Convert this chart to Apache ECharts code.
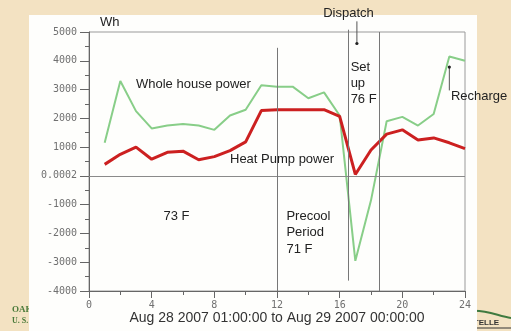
<!DOCTYPE html>
<html>
<head>
<meta charset="utf-8">
<script src="https://cdn.jsdelivr.net/npm/echarts@6/dist/echarts.min.js"></script>
<style>
  html, body { margin: 0; padding: 0; background: #f3e2c2; }
  #chart { width: 511px; height: 331px; }
</style>
</head>
<body>
<div id="chart"></div>
<script>
// Hourly energy use, Aug 28 2007 01:00 to Aug 29 2007 00:00
const hours = [1, 2, 3, 4, 5, 6, 7, 8, 9, 10, 11, 12, 13, 14, 15, 16, 17, 18, 19, 20, 21, 22, 23, 24];
const wholeHousePower = [1150, 3300, 2250, 1650, 1750, 1800, 1750, 1600, 2100, 2300, 3150, 3100,
                         3100, 2700, 2900, 2100, -2950, -850, 1900, 2050, 1750, 2150, 4150, 4000];
const heatPumpPower = [400, 750, 1000, 580, 820, 860, 560, 670, 880, 1180, 2270, 2300,
                       2300, 2300, 2300, 2070, 50, 900, 1450, 1600, 1250, 1320, 1150, 950];

const yTicks = [-4000, -3000, -2000, -1000, 0, 1000, 2000, 3000, 4000, 5000];
const xTicks = [0, 4, 8, 12, 16, 20, 24];

// Period boundaries: [hour, top value, bottom value]
const periodLines = [[12, 4450, -4000], [16.5, 5080, -3640], [18.5, 5000, -4000]];

const chart = echarts.init(document.getElementById('chart'), null, { renderer: 'canvas' });

const axisFont = { fontFamily: 'DejaVu Sans Mono', fontSize: 10, color: '#707070' };

chart.setOption({
  backgroundColor: '#f3e2c2',
  animation: false,
  grid: { left: 89, right: 46, top: 32, bottom: 40, show: true, borderColor: '#9a9a9a', borderWidth: 1 },
  xAxis: {
    type: 'value', min: xTicks[0], max: xTicks[xTicks.length - 1], interval: 4,
    axisLine: { onZero: false, lineStyle: { color: '#666', width: 1 } },
    axisTick: { length: 7, lineStyle: { color: '#666' } },
    minorTick: { show: true, splitNumber: 2, length: 4, lineStyle: { color: '#666' } },
    splitLine: { show: false },
    axisLabel: Object.assign({ margin: 9 }, axisFont)
  },
  yAxis: {
    type: 'value', min: yTicks[0], max: yTicks[yTicks.length - 1], interval: 1000,
    axisLine: { show: true, lineStyle: { color: '#666', width: 1 } },
    axisTick: { show: true, length: 9, lineStyle: { color: '#666' } },
    minorTick: { show: true, splitNumber: 2, length: 4, lineStyle: { color: '#666' } },
    splitLine: { show: false },
    axisLabel: Object.assign({ margin: 12, formatter: v => (v === 0 ? '0.0002' : String(v)) }, axisFont)
  },
  series: [
    {
      name: 'Whole house power', type: 'line', symbol: 'none',
      data: hours.map((h, i) => [h, wholeHousePower[i]]),
      lineStyle: { color: '#88ce88', width: 2 }, z: 3,
      markLine: {
        silent: true, symbol: 'none', label: { show: false },
        lineStyle: { color: '#8a8a8a', width: 1, type: 'solid' },
        data: [{ yAxis: 0 }]
      }
    },
    {
      name: 'Heat Pump power', type: 'line', symbol: 'none',
      data: hours.map((h, i) => [h, heatPumpPower[i]]),
      lineStyle: { color: '#cc2020', width: 3 }, z: 4
    }
  ]
});

const px = (x, y) => chart.convertToPixel({ gridIndex: 0 }, [x, y]);

const elements = [];

// slide background logos, partly covered by the white panel
elements.push({
  type: 'text', z: -20, left: 12, top: 305,
  style: { text: 'OAK RIDGE NATIONAL LABORATORY', font: 'bold 9px "Liberation Serif"', fill: '#4a7a3a' }
});
elements.push({
  type: 'text', z: -20, left: 12, top: 317,
  style: { text: 'U. S. DEPARTMENT OF ENERGY', font: 'bold 8px "Liberation Serif"', fill: '#4a7a3a' }
});
elements.push({
  type: 'text', z: -20, left: 458, top: 319,
  style: { text: 'BATTELLE', font: 'bold 8px "Liberation Sans"', fill: '#333' }
});
elements.push({
  type: 'line', z: -20, shape: { x1: 470, y1: 328, x2: 511, y2: 328 },
  style: { stroke: '#333', lineWidth: 1 }
});
elements.push({
  type: 'bezierCurve', z: -20,
  shape: { x1: 470, y1: 311, cpx1: 485, cpy1: 309, cpx2: 498, cpy2: 316, x2: 511, y2: 318 },
  style: { stroke: '#3f7a3f', lineWidth: 2, fill: null }
});

// white slide panel behind the chart
elements.push({
  type: 'rect', z: -10, shape: { x: 29, y: 15, width: 448, height: 320 },
  style: { fill: '#fefefc' }
});

// period boundary lines
periodLines.forEach(([h, top, bottom]) => {
  const a = px(h, top), b = px(h, bottom);
  elements.push({
    type: 'line', z: 5, shape: { x1: Math.round(a[0]) + 0.5, y1: a[1], x2: Math.round(b[0]) + 0.5, y2: b[1] },
    style: { stroke: '#777', lineWidth: 1 }
  });
});

// arrows with dot heads
function arrow(h, fromV, toV) {
  const a = px(h, fromV), b = px(h, toV);
  elements.push({ type: 'line', z: 5, shape: { x1: a[0], y1: a[1], x2: b[0], y2: b[1] }, style: { stroke: '#555', lineWidth: 1 } });
  elements.push({ type: 'circle', z: 5, shape: { cx: b[0], cy: b[1], r: 1.6 }, style: { fill: '#222' } });
}
arrow(17.1, 5370, 4600);
arrow(23.0, 2970, 3780);

// text annotations anchored in data space
function label(text, h, v, size, align) {
  const p = px(h, v);
  elements.push({
    type: 'text', z: 6, x: p[0], y: p[1],
    style: { text: text, font: size + 'px "Liberation Sans"', fill: '#222', textAlign: align || 'left', textVerticalAlign: 'middle' }
  });
}
label('Wh', 0.7, 5320, 13);
label('Dispatch', 14.95, 5640, 13);
label('Whole house power', 3.0, 3180, 13);
label('Heat Pump power', 9.0, 580, 13);
label('Set', 16.7, 3770, 13);
label('up', 16.7, 3200, 13);
label('76 F', 16.7, 2640, 13);
label('Recharge', 23.1, 2750, 13);
label('73 F', 4.75, -1420, 13);
label('Precool', 12.6, -1420, 13);
label('Period', 12.6, -1980, 13);
label('71 F', 12.6, -2540, 13);

// x-axis title
elements.push({
  type: 'text', z: 6, x: 277, y: 318,
  style: { text: 'Aug 28 2007 01:00:00 to Aug 29 2007 00:00:00', font: '14px "Liberation Sans"', fill: '#333', textAlign: 'center', textVerticalAlign: 'middle' }
});

chart.setOption({ graphic: { elements: elements } });
</script>
</body>
</html>
